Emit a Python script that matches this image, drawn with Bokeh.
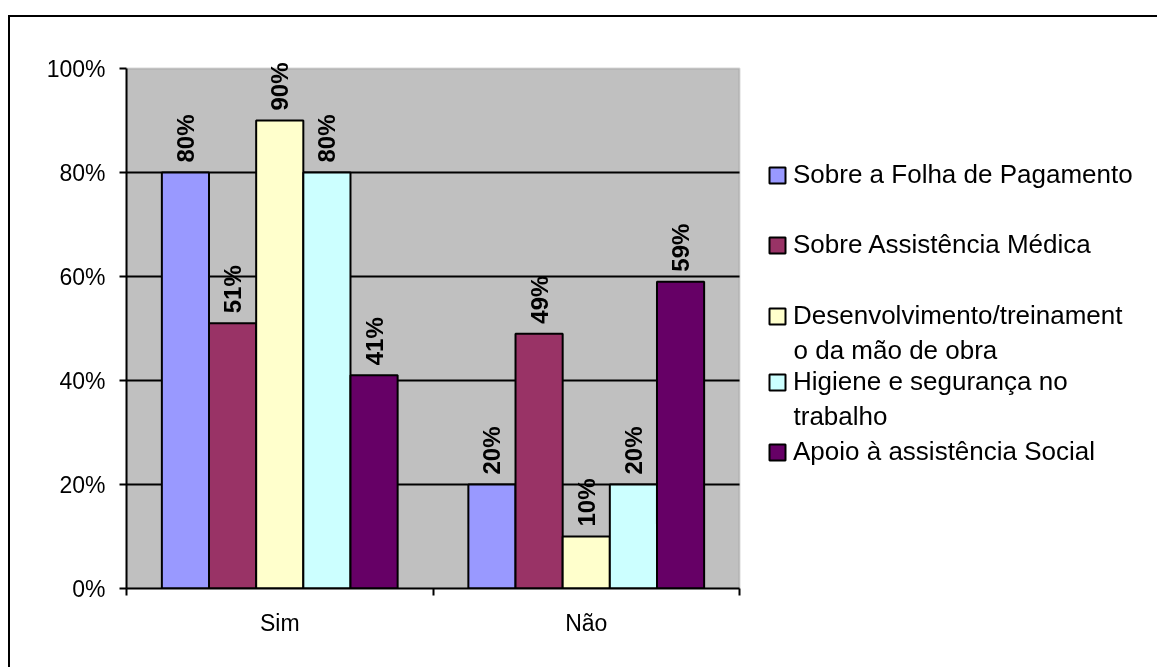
from math import pi

from bokeh.core.properties import value
from bokeh.plotting import figure
from bokeh.models import (Range1d, FixedTicker, NumeralTickFormatter, ColumnDataSource,
                          LabelSet, Legend, LegendItem, BoxAnnotation, Label)
from bokeh.embed import file_html
from bokeh.resources import INLINE

# --- data -------------------------------------------------------------
categories = ["Sim", "Não"]
series = [
    "Sobre a Folha de Pagamento",
    "Sobre Assistência Médica",
    "Desenvolvimento/treinament\no da mão de obra",
    "Higiene e segurança no\ntrabalho",
    "Apoio à assistência Social",
]
colors = ["#9999FF", "#993366", "#FFFFCC", "#CCFFFF", "#660066"]
values_sim = [0.80, 0.51, 0.90, 0.80, 0.41]
values_nao = [0.20, 0.49, 0.10, 0.20, 0.59]
y_ticks = [0.0, 0.2, 0.4, 0.6, 0.8, 1.0]

FONT = "Liberation Sans"

# --- page geometry (pixels) -------------------------------------------
PAGE_W, PAGE_H = 1157, 667
OX, OY = 10, 17                 # canvas origin inside the bordered chart area
# the chart area runs on past the right and bottom edges of the page
CW, CH = PAGE_W - OX + 30, PAGE_H - OY + 30
PA_LEFT, PA_RIGHT, PA_TOP, PA_BOTTOM = 126, 739, 68, 588   # plot area on the page

# frame runs from the plot-area left edge to the canvas right edge,
# and from the canvas top down to the category axis
frame_left = PA_LEFT - OX
frame_bottom = PA_BOTTOM - OY
n_cat = len(categories)
px_per_x = (PA_RIGHT - PA_LEFT) / n_cat
px_per_y = PA_BOTTOM - PA_TOP
x_end = (CW - frame_left) / px_per_x
y_end = (PA_BOTTOM - OY) / px_per_y

p = figure(
    width=CW, height=CH,
    x_range=Range1d(0, x_end), y_range=Range1d(0, y_end),
    output_backend="svg", toolbar_location=None,
    min_border_left=frame_left, min_border_right=0,
    min_border_top=0, min_border_bottom=CH - frame_bottom,
    background_fill_color="white", border_fill_color="white",
)
p.outline_line_color = None
p.styles = {
    "position": "fixed", "left": f"{OX - 2}px", "top": f"{OY - 2}px",
    "border-left": "2px solid black", "border-top": "2px solid black",
}

# grey plot area with its grey top/right edges
p.add_layout(BoxAnnotation(
    left=0, right=n_cat, bottom=0, top=1,
    fill_color="#C0C0C0", fill_alpha=1.0,
    line_color="#808080", line_width=2, level="image",
))

# horizontal grid lines, limited to the plot area
p.xgrid.visible = False
grid = p.ygrid[0]
grid.ticker = FixedTicker(ticks=y_ticks[1:-1])
grid.grid_line_color = "black"
grid.grid_line_width = 2
grid.bounds = (0, 1)
if "cross_bounds" in grid.properties():
    grid.cross_bounds = (0, n_cat)

# y axis
yax = p.yaxis[0]
yax.bounds = (0, 1)
yax.ticker = FixedTicker(ticks=y_ticks)
yax.formatter = NumeralTickFormatter(format="0%")
yax.axis_line_width = 2
yax.major_tick_line_width = 2
yax.major_tick_in = 0
yax.major_tick_out = 7
yax.minor_tick_line_color = None
yax.major_label_text_font = FONT
yax.major_label_text_font_size = "23px"
yax.major_label_text_color = "black"
yax.major_label_standoff = 14

# x axis: labels centred on the groups, tick marks on group boundaries
xax = p.xaxis[0]
xax.bounds = (0, n_cat)
xax.ticker = FixedTicker(ticks=[i + 0.5 for i in range(n_cat)],
                         minor_ticks=list(range(n_cat + 1)))
xax.major_label_overrides = {i + 0.5: c for i, c in enumerate(categories)}
xax.axis_line_width = 2
xax.major_tick_line_color = None
xax.major_tick_in = 0
xax.major_tick_out = 7
xax.minor_tick_line_color = "black"
xax.minor_tick_line_width = 2
xax.minor_tick_in = 0
xax.minor_tick_out = 7
xax.major_label_text_font = FONT
xax.major_label_text_font_size = "23px"
xax.major_label_text_color = "black"
xax.major_label_standoff = 14

# bars: 5 series per group, gap of 1.5 bar widths between groups
n = len(series)
slot = n + 1.5
bar_w = 1.0 / slot
renderers = []
for j, name in enumerate(series):
    off = (0.75 + j + 0.5) / slot
    vals = [values_sim[j], values_nao[j]]
    src = ColumnDataSource(dict(
        x=[i + off for i in range(n_cat)],
        top=vals,
        label=[f"{round(v * 100)}%" for v in vals],
    ))
    r = p.vbar(x="x", top="top", width=bar_w, bottom=0, source=src,
               fill_color=colors[j], line_color="black", line_width=2)
    renderers.append(r)
    p.add_layout(LabelSet(
        x="x", y="top", text="label", source=src, angle=pi / 2,
        text_align="left", text_baseline="middle", y_offset=10,
        text_font=value(FONT), text_font_size=value("24px"),
        text_font_style="bold", text_color="black",
    ))

# legend: one block per entry, stacked at a fixed pitch
first_line_y = [175, 245, 316, 382, 452]   # page y of each entry's first line
for j, name in enumerate(series):
    lines = name.split("\n")
    item = LegendItem(label=lines[0], renderers=[renderers[j]])
    lg = Legend(
        items=[item],
        location=(767 - PA_LEFT, PA_BOTTOM - first_line_y[j] - 15),
        padding=0, margin=0, spacing=0,
        glyph_width=20, glyph_height=20, label_standoff=6,
        label_text_font=FONT, label_text_font_size="26px", label_text_color="black",
        border_line_alpha=0, background_fill_alpha=0,
    )
    p.add_layout(lg)
    for k, extra in enumerate(lines[1:], start=1):
        p.add_layout(Label(
            x=791 - OX, y=first_line_y[j] + 31 * k - OY,
            x_units="canvas", y_units="canvas",
            text=extra, text_font=FONT, text_font_size="26px",
            text_baseline="middle", text_align="left", text_color="black",
        ))

open("out.html", "w").write(file_html(p, INLINE))
